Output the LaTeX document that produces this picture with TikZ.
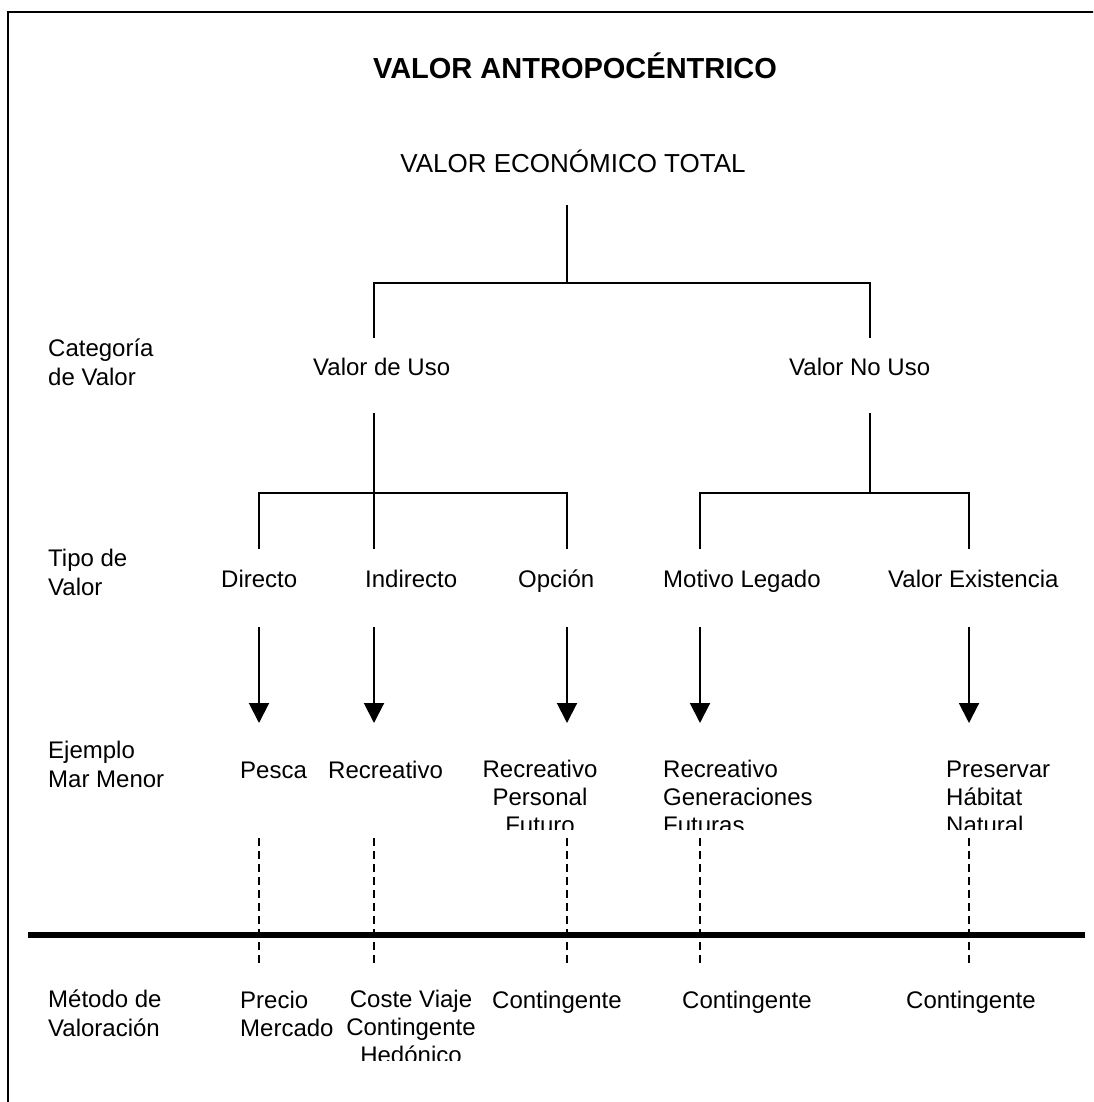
\documentclass[tikz,border=0pt]{standalone}
\usepackage{fontspec}
\setmainfont{Liberation Sans}
\usetikzlibrary{arrows.meta, positioning}

\tikzset{
  fila/.style={font=\fontsize{24}{29}\selectfont, align=left, anchor=base west, inner sep=0pt},
  txt/.style={font=\fontsize{24}{27.6}\selectfont, inner sep=0pt},
  rama/.style={line width=1.8pt},
  flecha/.style={line width=2pt, -{Triangle[width=20pt,length=20pt]}},
  guia/.style={line width=1.5pt, dash pattern=on 8pt off 5pt}
}

\begin{document}
\begin{tikzpicture}[x=1pt, y=-1pt]
  \clip (0,0) rectangle (1093,1102);
  % marco
  \draw[line width=2.2pt] (8,12) rectangle (1200,1200);

  % titulos
  \node[font=\bfseries\fontsize{29}{34}\selectfont, inner sep=0pt] (titulo) at (575,66) {VALOR ANTROPOCÉNTRICO};
  \node[font=\fontsize{26}{31}\selectfont, inner sep=0pt] (total) at (573,161) {VALOR ECONÓMICO TOTAL};

  % etiquetas de fila (anclas en la ultima linea)
  \node[fila] (cat) at (48,385) {Categoría\\de Valor};
  \node[fila] (tipo) at (48,595) {Tipo de\\Valor};
  \node[fila] (ejem) at (48,787) {Ejemplo\\Mar Menor};
  \node[fila] (met) at (48,1036) {Método de\\Valoración};

  % categorias
  \node[txt, anchor=base west] (uso) at (313,375) {Valor de Uso};
  \node[txt, anchor=base west] (nouso) at (789,375) {Valor No Uso};

  % tipos
  \foreach \x/\nombre/\texto in {
    221/directo/{Directo},
    365/indirecto/{Indirecto},
    518/opcion/{Opción},
    663/legado/{Motivo Legado},
    888/existencia/{Valor Existencia}
  } {
    \node[txt, anchor=base west] (\nombre) at (\x,587) {\texto};
  }

  % ramas del arbol
  \coordinate (t0) at (567,205);
  \coordinate (t1) at (567,283);
  \coordinate (u0) at (374,338);
  \coordinate (n0) at (870,338);
  \draw[rama] (t0) -- (t1);
  \draw[rama] (u0) |- (t1) -| (n0);

  \coordinate (u1) at (374,413);
  \coordinate (uj) at (374,493);
  \coordinate (u2) at (374,549);
  \coordinate (d0) at (259,549);
  \coordinate (o0) at (567,549);
  \draw[rama] (u1) -- (u2);
  \draw[rama] (d0) |- (uj) -| (o0);

  \coordinate (n1) at (870,413);
  \coordinate (nj) at (870,493);
  \coordinate (l0) at (700,549);
  \coordinate (e0) at (969,549);
  \draw[rama] (n1) -- (nj);
  \draw[rama] (l0) |- (nj) -| (e0);

  % flechas y guias
  \foreach \x in {259,374,567,700,969} {
    \coordinate (fa\x) at (\x,627);
    \coordinate (fb\x) at (\x,723);
    \draw[flecha] (fa\x) -- (fb\x);
    \coordinate (ga\x) at (\x,838);
    \coordinate (gb\x) at (\x,967);
    \draw[guia] (ga\x) -- (gb\x);
  }

  % linea gruesa
  \coordinate (la) at (28,935);
  \coordinate (lb) at (1085,935);
  \draw[line width=6.7pt] (la) -- (lb);

  % ejemplos Mar Menor (recortados)
  \begin{scope}
    \clip (200,700) rectangle (1093,829);
    \node[txt, anchor=base west] (pesca) at (240,778) {Pesca};
    \node[txt, anchor=base west] (recreo) at (328,778) {Recreativo};
    \node[txt, align=center, anchor=base] (futuro) at (540,833) {Recreativo\\Personal\\Futuro};
    \node[txt, align=left, anchor=base west] (generac) at (663,833) {Recreativo\\Generaciones\\Futuras};
    \node[txt, align=left, anchor=base west] (habitat) at (946,833) {Preservar\\Hábitat\\Natural};
  \end{scope}

  % metodos de valoracion
  \begin{scope}
    \clip (200,960) rectangle (1093,1060);
    \node[txt, align=left, anchor=base west] (precio) at (240,1036) {Precio\\Mercado};
    \node[txt, align=center, anchor=base] (coste) at (411,1063) {Coste Viaje\\Contingente\\Hedónico};
    \node[txt, anchor=base west] (cont1) at (492,1008) {Contingente};
    \node[txt, anchor=base west] (cont2) at (682,1008) {Contingente};
    \node[txt, anchor=base west] (cont3) at (906,1008) {Contingente};
  \end{scope}
\end{tikzpicture}
\end{document}
